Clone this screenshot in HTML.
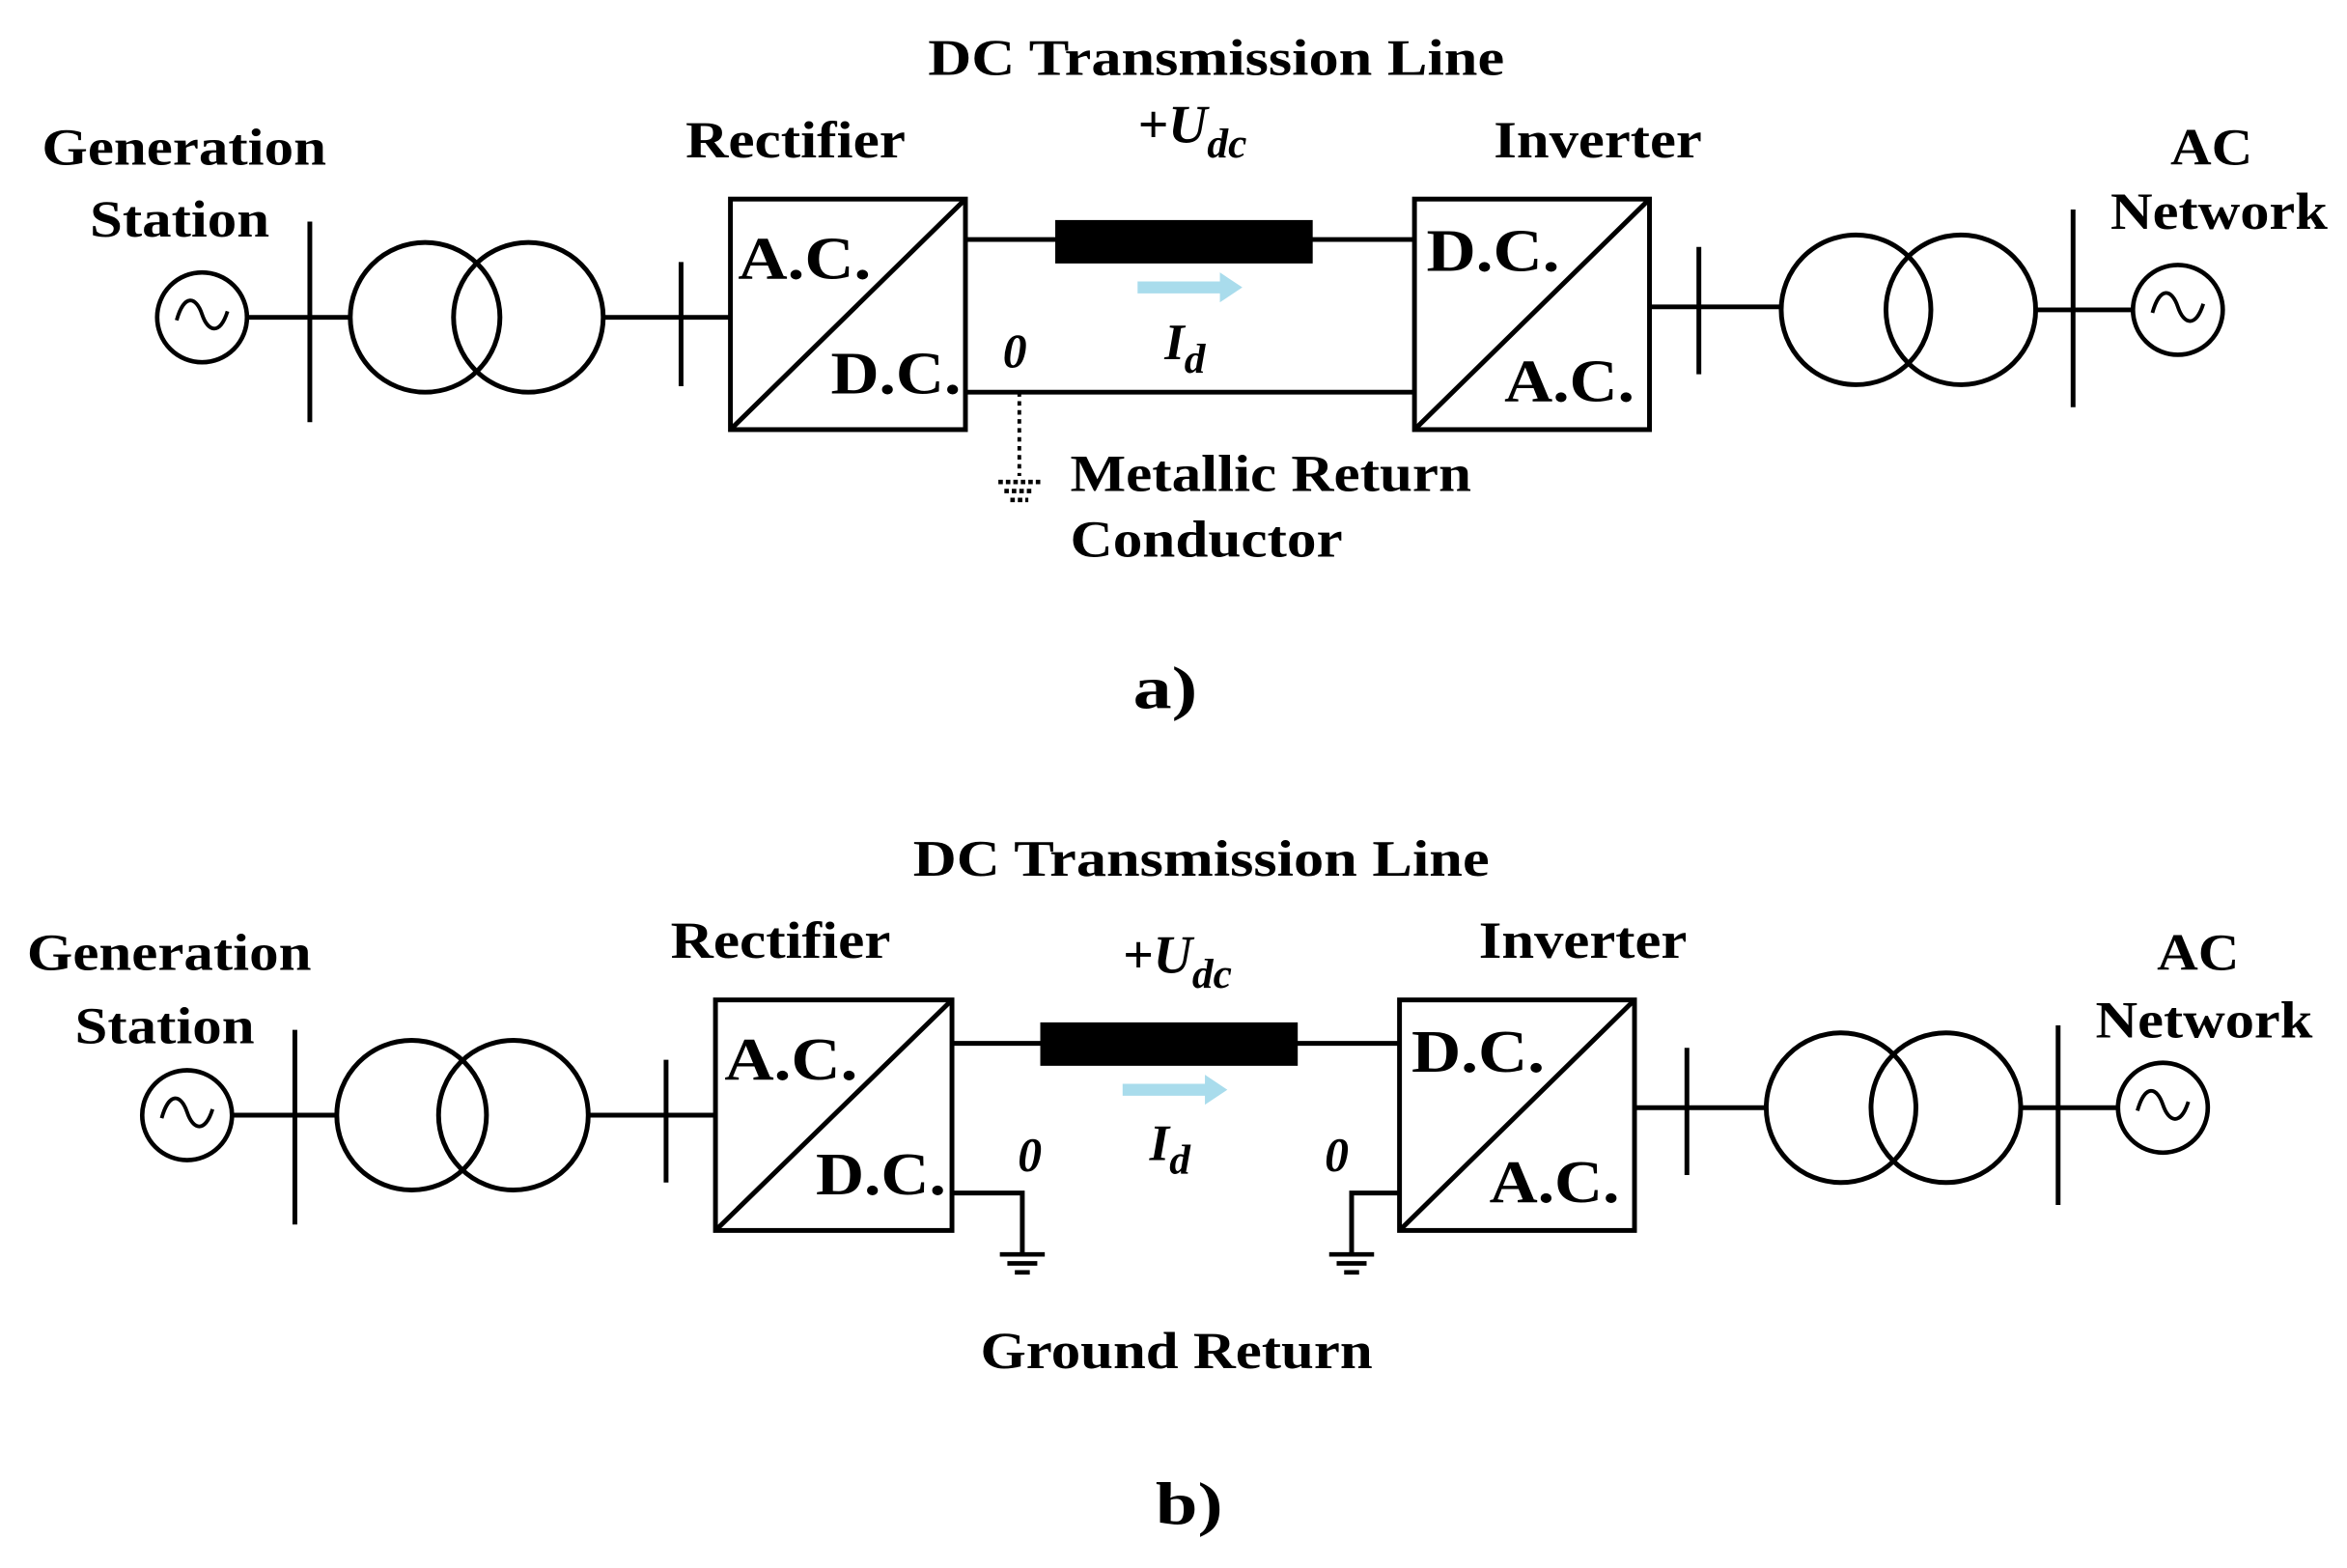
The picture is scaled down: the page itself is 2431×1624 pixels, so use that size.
<!DOCTYPE html>
<html><head><style>
html,body{margin:0;padding:0;background:#fff;}
svg{display:block;}
text{font-family:"Liberation Serif",serif;font-weight:bold;fill:#000;}
</style></head><body>
<svg width="2431" height="1624" viewBox="0 0 1568 1047.5" preserveAspectRatio="none" xmlns="http://www.w3.org/2000/svg">
<defs>
<g id="gen"><circle cx="0" cy="0" r="30" fill="none" stroke="#000" stroke-width="3"/>
<path d="M-17,2 C-12,-16 -4,-14 0,-2 C4,10 12,12 17,-4" fill="none" stroke="#000" stroke-width="2.5"/></g>
<g id="gnd" stroke="#000" stroke-width="3"><line x1="-15" y1="0" x2="15" y2="0"/><line x1="-10" y1="6" x2="10" y2="6"/><line x1="-5" y1="12" x2="5" y2="12"/></g>
</defs>

<!-- ===== a) ===== -->
<g stroke="#000" stroke-width="3.2" fill="none">
<line x1="166" y1="212" x2="234" y2="212"/>
<line x1="207" y1="148" x2="207" y2="282"/>
<circle cx="284" cy="212" r="50"/><circle cx="353" cy="212" r="50"/>
<line x1="403" y1="212" x2="488" y2="212"/>
<line x1="455" y1="175" x2="455" y2="258"/>
<rect x="488" y="133" width="157" height="154"/>
<line x1="488" y1="287" x2="645" y2="133"/>
<line x1="645" y1="160" x2="945" y2="160"/>
<line x1="645" y1="262" x2="945" y2="262"/>
<rect x="945" y="133" width="157" height="154"/>
<line x1="945" y1="287" x2="1102" y2="133"/>
<line x1="1102" y1="205" x2="1190" y2="205"/>
<line x1="1135" y1="165" x2="1135" y2="250"/>
<circle cx="1240" cy="207" r="50"/><circle cx="1310" cy="207" r="50"/>
<line x1="1360" y1="207" x2="1425" y2="207"/>
<line x1="1385" y1="140" x2="1385" y2="272"/>
<line x1="681" y1="262" x2="681" y2="318" stroke-dasharray="3,3" stroke-width="2.5"/>
</g>
<rect x="705" y="147" width="172" height="29" fill="#000"/>
<use href="#gen" x="135" y="212"/>
<use href="#gen" x="1455" y="207"/>
<g stroke="#000" stroke-width="3" stroke-dasharray="3,2"><line x1="667" y1="322" x2="695" y2="322"/><line x1="671" y1="328" x2="691" y2="328"/><line x1="675" y1="334" x2="687" y2="334"/></g>
<path d="M760,188 L815,188 L815,182 L830,192 L815,202 L815,196 L760,196 Z" fill="#a9dcec"/>

<text x="620" y="50" font-size="34" textLength="385" lengthAdjust="spacingAndGlyphs">DC Transmission Line</text>
<text x="760" y="95" font-size="36" font-style="italic">+U<tspan font-size="28" dy="10">dc</tspan></text>
<text x="28" y="110" font-size="35" textLength="190" lengthAdjust="spacingAndGlyphs">Generation</text>
<text x="60" y="158" font-size="35" textLength="120" lengthAdjust="spacingAndGlyphs">Station</text>
<text x="458" y="105" font-size="35" textLength="147" lengthAdjust="spacingAndGlyphs">Rectifier</text>
<text x="998" y="105" font-size="35" textLength="139" lengthAdjust="spacingAndGlyphs">Inverter</text>
<text x="1450" y="110" font-size="35" textLength="55" lengthAdjust="spacingAndGlyphs">AC</text>
<text x="1410" y="153" font-size="35" textLength="145" lengthAdjust="spacingAndGlyphs">Network</text>
<text x="493" y="186" font-size="40" textLength="89" lengthAdjust="spacingAndGlyphs">A.C.</text>
<text x="555" y="263" font-size="40" textLength="87" lengthAdjust="spacingAndGlyphs">D.C.</text>
<text x="953" y="181" font-size="40" textLength="89" lengthAdjust="spacingAndGlyphs">D.C.</text>
<text x="1005" y="268" font-size="40" textLength="87" lengthAdjust="spacingAndGlyphs">A.C.</text>
<text x="670" y="245" font-size="32" font-style="italic">0</text>
<text x="778" y="240" font-size="34" font-style="italic">I<tspan font-size="28" dy="9">d</tspan></text>
<text x="715" y="328" font-size="35" textLength="268" lengthAdjust="spacingAndGlyphs">Metallic Return</text>
<text x="715" y="372" font-size="35" textLength="182" lengthAdjust="spacingAndGlyphs">Conductor</text>
<text x="757" y="473" font-size="40" textLength="43" lengthAdjust="spacingAndGlyphs">a)</text>

<!-- ===== b) ===== -->
<g stroke="#000" stroke-width="3.2" fill="none">
<line x1="156" y1="745" x2="225" y2="745"/>
<line x1="197" y1="688" x2="197" y2="818"/>
<circle cx="275" cy="745" r="50"/><circle cx="343" cy="745" r="50"/>
<line x1="393" y1="745" x2="478" y2="745"/>
<line x1="445" y1="708" x2="445" y2="790"/>
<rect x="478" y="668" width="158" height="154"/>
<line x1="478" y1="822" x2="636" y2="668"/>
<line x1="636" y1="697" x2="935" y2="697"/>
<polyline points="636,797 683,797 683,837"/>
<polyline points="935,797 903,797 903,837"/>
<rect x="935" y="668" width="157" height="154"/>
<line x1="935" y1="822" x2="1092" y2="668"/>
<line x1="1092" y1="740" x2="1180" y2="740"/>
<line x1="1127" y1="700" x2="1127" y2="785"/>
<circle cx="1230" cy="740" r="50"/><circle cx="1300" cy="740" r="50"/>
<line x1="1350" y1="740" x2="1415" y2="740"/>
<line x1="1375" y1="685" x2="1375" y2="805"/>
</g>
<rect x="695" y="683" width="172" height="29" fill="#000"/>
<use href="#gen" x="125" y="745"/>
<use href="#gen" x="1445" y="740"/>
<use href="#gnd" x="683" y="838"/>
<use href="#gnd" x="903" y="838"/>
<path d="M750,724 L805,724 L805,718 L820,728 L805,738 L805,732 L750,732 Z" fill="#a9dcec"/>

<text x="610" y="585" font-size="34" textLength="385" lengthAdjust="spacingAndGlyphs">DC Transmission Line</text>
<text x="750" y="650" font-size="36" font-style="italic">+U<tspan font-size="28" dy="10">dc</tspan></text>
<text x="18" y="648" font-size="35" textLength="190" lengthAdjust="spacingAndGlyphs">Generation</text>
<text x="50" y="697" font-size="35" textLength="120" lengthAdjust="spacingAndGlyphs">Station</text>
<text x="448" y="640" font-size="35" textLength="147" lengthAdjust="spacingAndGlyphs">Rectifier</text>
<text x="988" y="640" font-size="35" textLength="139" lengthAdjust="spacingAndGlyphs">Inverter</text>
<text x="1441" y="648" font-size="35" textLength="55" lengthAdjust="spacingAndGlyphs">AC</text>
<text x="1400" y="693" font-size="35" textLength="145" lengthAdjust="spacingAndGlyphs">Network</text>
<text x="484" y="721" font-size="40" textLength="89" lengthAdjust="spacingAndGlyphs">A.C.</text>
<text x="545" y="798" font-size="40" textLength="87" lengthAdjust="spacingAndGlyphs">D.C.</text>
<text x="943" y="716" font-size="40" textLength="89" lengthAdjust="spacingAndGlyphs">D.C.</text>
<text x="995" y="803" font-size="40" textLength="87" lengthAdjust="spacingAndGlyphs">A.C.</text>
<text x="680" y="782" font-size="32" font-style="italic">0</text>
<text x="885" y="782" font-size="32" font-style="italic">0</text>
<text x="768" y="775" font-size="34" font-style="italic">I<tspan font-size="28" dy="9">d</tspan></text>
<text x="655" y="914" font-size="35" textLength="262" lengthAdjust="spacingAndGlyphs">Ground Return</text>
<text x="772" y="1018" font-size="40" textLength="45" lengthAdjust="spacingAndGlyphs">b)</text>
</svg>
</body></html>
